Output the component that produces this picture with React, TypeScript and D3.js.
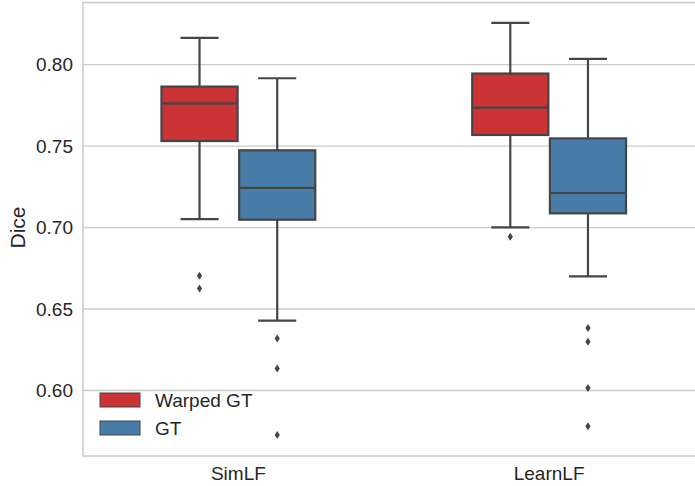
import React, { useRef, useEffect } from "react";
import * as d3 from "d3";

const categories = ["SimLF", "LearnLF"];
const hues = ["Warped GT", "GT"];
const hueColors = ["#cb3335", "#477ca8"];

// [whiskerLow, q1, median, q3, whiskerHigh] per category, per hue
const warpedStats = [
  [0.7052, 0.7531, 0.7762, 0.7865, 0.8164],
  [0.7001, 0.7568, 0.7736, 0.7945, 0.8256],
];
const gtStats = [
  [0.6429, 0.7048, 0.7243, 0.7474, 0.7916],
  [0.67, 0.7087, 0.7212, 0.7547, 0.8035],
];
const warpedOutliers = [[0.6704, 0.6626], [0.6943]];
const gtOutliers = [
  [0.6319, 0.6135, 0.5727],
  [0.6383, 0.6299, 0.6016, 0.578],
];
const yTicks = [0.6, 0.65, 0.7, 0.75, 0.8];

const W = 695;
const H = 486;
const FONT = "'Liberation Sans', Arial, sans-serif";
const EDGE = "#454545";

const App = () => {
  const ref = useRef<SVGSVGElement>(null);

  useEffect(() => {
    const margin = { top: 2.5, left: 83, bottom: 30 };
    const plotRight = 704.5;
    const plotBottom = H - margin.bottom;

    const svg = d3.select(ref.current);
    svg.selectAll("*").remove();

    const y = d3.scaleLinear().domain([0.5598, 0.8381]).range([plotBottom, margin.top]);
    const x = d3.scaleLinear().domain([-0.5, 1.5]).range([margin.left, plotRight]);
    const unit = x(1) - x(0);

    // grid
    svg.append("g")
      .selectAll("line")
      .data(yTicks)
      .join("line")
      .attr("x1", margin.left)
      .attr("x2", plotRight)
      .attr("y1", d => y(d))
      .attr("y2", d => y(d))
      .attr("stroke", "#cccccc")
      .attr("stroke-width", 1.3);

    // frame
    svg.append("rect")
      .attr("x", margin.left)
      .attr("y", margin.top)
      .attr("width", plotRight - margin.left)
      .attr("height", plotBottom - margin.top)
      .attr("fill", "none")
      .attr("stroke", "#cccccc")
      .attr("stroke-width", 1.6);

    // y tick labels
    svg.append("g")
      .selectAll("text")
      .data(yTicks)
      .join("text")
      .attr("x", 73)
      .attr("y", d => y(d))
      .attr("dy", "0.35em")
      .attr("text-anchor", "end")
      .attr("font-family", FONT)
      .attr("font-size", 19)
      .attr("fill", "#262626")
      .text(d => d3.format(".2f")(d));

    svg.append("text")
      .attr("transform", `translate(25,${y(0.7)}) rotate(-90)`)
      .attr("text-anchor", "middle")
      .attr("font-family", FONT)
      .attr("font-size", 21)
      .attr("fill", "#262626")
      .text("Dice");

    // x tick labels
    svg.append("g")
      .selectAll("text")
      .data(categories)
      .join("text")
      .attr("x", (d, i) => x(i))
      .attr("y", 480)
      .attr("text-anchor", "middle")
      .attr("font-family", FONT)
      .attr("font-size", 19)
      .attr("fill", "#262626")
      .text(d => d);

    const boxW = 0.245 * unit;
    const allStats = [warpedStats, gtStats];
    const allOutliers = [warpedOutliers, gtOutliers];

    allStats.forEach((stats, h) => {
      const off = (h === 0 ? -0.125 : 0.125) * unit;
      stats.forEach((s, i) => {
        const cx = x(i) + off;
        const g = svg.append("g");
        const [lo, q1, med, q3, hi] = s;
        g.append("line").attr("x1", cx).attr("x2", cx).attr("y1", y(hi)).attr("y2", y(q3))
          .attr("stroke", EDGE).attr("stroke-width", 2.2);
        g.append("line").attr("x1", cx).attr("x2", cx).attr("y1", y(q1)).attr("y2", y(lo))
          .attr("stroke", EDGE).attr("stroke-width", 2.2);
        [lo, hi].forEach(v => {
          g.append("line").attr("x1", cx - boxW / 4).attr("x2", cx + boxW / 4)
            .attr("y1", y(v)).attr("y2", y(v))
            .attr("stroke", EDGE).attr("stroke-width", 2.2);
        });
        g.append("rect")
          .attr("x", cx - boxW / 2)
          .attr("y", y(q3))
          .attr("width", boxW)
          .attr("height", y(q1) - y(q3))
          .attr("fill", hueColors[h])
          .attr("stroke", EDGE)
          .attr("stroke-width", 2.2);
        g.append("line").attr("x1", cx - boxW / 2).attr("x2", cx + boxW / 2)
          .attr("y1", y(med)).attr("y2", y(med))
          .attr("stroke", EDGE).attr("stroke-width", 2.2);
        g.selectAll("path")
          .data(allOutliers[h][i])
          .join("path")
          .attr("transform", d => `translate(${cx},${y(d)})`)
          .attr("d", "M0,-4L2.6,0L0,4L-2.6,0Z")
          .attr("fill", EDGE);
      });
    });

    // legend
    const leg = svg.append("g");
    hues.forEach((name, i) => {
      const ly = 393 + i * 28;
      leg.append("rect")
        .attr("x", 100).attr("y", ly)
        .attr("width", 40).attr("height", 14)
        .attr("fill", hueColors[i])
        .attr("stroke", EDGE)
        .attr("stroke-width", 1);
      leg.append("text")
        .attr("x", 155).attr("y", ly + 7)
        .attr("dy", "0.35em")
        .attr("font-family", FONT)
        .attr("font-size", 19)
        .attr("fill", "#262626")
        .text(name);
    });
  }, []);

  return (
    <svg ref={ref} width={W} height={H}
      style={{ position: "absolute", left: 0, top: 0, background: "#fff" }} />
  );
};

export default App;
